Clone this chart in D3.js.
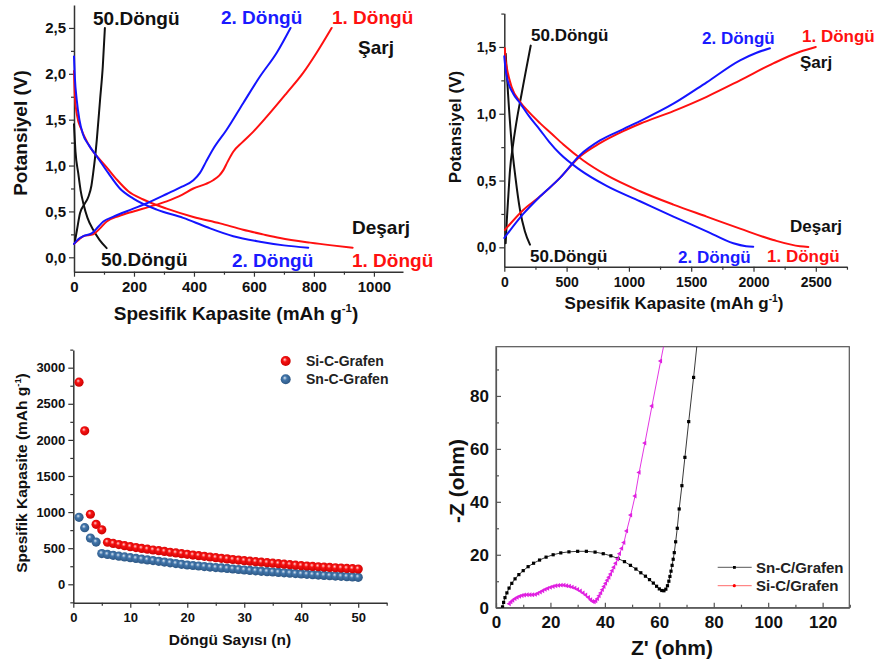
<!DOCTYPE html>
<html><head><meta charset="utf-8">
<script src="https://cdn.jsdelivr.net/npm/d3@7"></script>
<style>
body{margin:0;background:#fff}
svg{display:block}
text{font-family:"Liberation Sans",Arial,sans-serif;font-weight:bold}
</style>
</head><body>
<svg id="c" width="878" height="668"></svg>
<script>
// ---------- DATA ----------
// Panel A (top-left): capacity (mAh/g), potential (V)
const aRedDis = [[0,2.03],[3,1.75],[10,1.55],[25,1.39],[45,1.25],[64,1.15],[85,1.07],[109,0.98],[142,0.85],[181,0.72],[231,0.63],[309,0.53],[398,0.44],[487,0.37],[564,0.30],[630,0.25],[687,0.21],[787,0.16],[860,0.13],[929,0.105]];
const aBlueDis = [[0,2.19],[3,1.95],[9,1.72],[18,1.5],[29,1.35],[50,1.22],[76,1.10],[114,0.92],[153,0.75],[198,0.64],[276,0.52],[364,0.43],[442,0.33],[531,0.23],[620,0.17],[700,0.13],[781,0.105]];
const aRedCh = [[0,0.146],[15,0.19],[31,0.23],[64,0.25],[85,0.31],[109,0.39],[150,0.45],[198,0.50],[250,0.55],[309,0.61],[360,0.68],[398,0.75],[440,0.80],[464,0.84],[484,0.89],[498,0.95],[512,1.04],[531,1.15],[560,1.25],[598,1.37],[642,1.53],[709,1.79],[764,2.01],[809,2.23],[859,2.50]];
const aBlueCh = [[0,0.146],[15,0.20],[31,0.23],[59,0.26],[80,0.33],[98,0.39],[130,0.44],[198,0.53],[250,0.60],[309,0.69],[360,0.77],[398,0.84],[420,0.92],[440,1.04],[464,1.18],[509,1.39],[564,1.68],[620,1.97],[676,2.23],[722,2.50]];
const aBlackCh = [[3,0.17],[10,0.30],[20,0.48],[35,0.58],[48,0.66],[58,0.78],[64,0.92],[70,1.08],[76,1.28],[87,1.72],[96,2.08],[103,2.50]];
const aBlackDis = [[0,1.45],[5,1.15],[14,0.92],[22,0.73],[31,0.59],[45,0.43],[64,0.30],[85,0.19],[109,0.10]];
// Panel B (top-right)
const bRedDis = [[5,1.49],[8,1.42],[19,1.35],[59,1.20],[126,1.09],[200,1.01],[286,0.93],[380,0.85],[474,0.77],[634,0.65],[821,0.54],[1089,0.42],[1357,0.32],[1624,0.23],[1892,0.14],[2159,0.055],[2373,0.008],[2440,0.003]];
const bBlueDis = [[0,1.43],[8,1.35],[19,1.28],[72,1.15],[126,1.08],[200,0.98],[286,0.88],[360,0.79],[447,0.70],[607,0.58],[821,0.46],[1089,0.345],[1357,0.23],[1624,0.12],[1838,0.03],[1940,0.008],[1998,0.004]];
const bRedCh = [[5,0.13],[152,0.28],[286,0.38],[447,0.52],[607,0.68],[768,0.78],[955,0.87],[1089,0.925],[1357,1.02],[1624,1.127],[1892,1.25],[2159,1.377],[2373,1.464],[2500,1.50]];
const bBlueCh = [[0,0.07],[152,0.25],[286,0.38],[447,0.52],[607,0.69],[768,0.80],[955,0.885],[1089,0.945],[1357,1.075],[1624,1.235],[1892,1.40],[2020,1.455],[2132,1.49]];
const bBlackDis = [[11,1.45],[30,1.15],[59,0.78],[90,0.52],[126,0.28],[165,0.12],[206,0.02]];
const bBlackCh = [[11,0.03],[20,0.2],[32,0.38],[46,0.58],[72,0.78],[105,0.98],[139,1.15],[175,1.33],[212,1.51]];
// Panel C (bottom-left): cycle number vs capacity
const cycles = d3.range(1, 51);
const siCapacity = [2800,2125,970,830,755,582,566,550,535,521,509,497,486,475,465,455,444,434,424,415,405,396,387,378,369,360,352,343,335,327,320,313,306,299,292,285,279,272,265,258,253,248,243,238,234,229,225,220,216,212];
const snCapacity = [928,784,640,585,425,413,401,390,379,369,358,348,338,328,318,308,297,287,277,267,260,253,246,239,232,226,220,212,205,198,192,186,180,175,170,164,159,154,148,143,138,133,128,123,118,114,110,106,101,97];
// Panel D (bottom-right): Nyquist Z' vs -Z''
const snNyquist = [[2.4,0.3],[2.8,2.0],[3.3,3.8],[4.0,5.6],[4.8,7.4],[5.8,9.2],[7.0,10.9],[8.4,12.5],[10.0,14.0],[11.8,15.5],[13.8,16.8],[16.0,18.0],[18.4,19.1],[21.0,20.0],[23.8,20.7],[26.8,21.1],[30.0,21.3],[33.2,21.3],[36.4,21.0],[39.4,20.4],[42.2,19.6],[44.8,18.6],[47.2,17.4],[49.4,16.0],[51.4,14.6],[53.2,13.2],[54.9,11.9],[56.4,10.6],[57.8,9.3],[59.0,8.1],[60.0,7.1],[60.9,6.5],[61.7,6.4],[62.4,7.0],[63.0,8.3],[63.5,10.0],[63.9,11.8],[64.3,13.8],[64.7,16.0],[65.1,18.3],[65.5,20.8],[66.0,24.9],[66.6,30.0],[67.3,37.3],[68.3,46.1],[69.4,56.8],[70.8,70.3],[72.6,87.0],[74.0,101]];
const siNyquist = [[4.9,1.5],[5.5,2.2],[6.2,2.8],[7.0,3.4],[7.8,3.9],[8.7,4.3],[9.6,4.6],[10.5,4.8],[11.5,4.9],[12.5,4.9],[13.5,4.9],[14.5,5.0],[15.4,5.4],[16.3,5.9],[17.2,6.4],[18.1,6.9],[19.0,7.3],[20.0,7.7],[21.0,8.0],[22.0,8.3],[23.0,8.4],[24.0,8.5],[25.0,8.5],[26.0,8.3],[27.0,8.1],[28.0,7.8],[29.0,7.4],[30.0,6.9],[31.0,6.3],[32.0,5.6],[33.0,4.8],[34.0,3.9],[34.8,3.0],[35.5,2.4],[36.1,2.2],[36.7,2.6],[37.3,3.4],[37.9,4.5],[38.5,5.6],[39.1,6.8],[39.7,8.0],[40.3,9.2],[40.9,10.4],[41.5,11.5],[42.1,12.7],[42.7,14.0],[43.3,15.3],[44.0,16.8],[44.7,18.4],[45.4,20.4],[46.2,22.4],[47.0,24.6],[48.0,29.0],[49.5,35.0],[51.1,42.2],[52.6,51.1],[54.7,62.2],[57.3,76.2],[60.5,93.2],[62.0,101]];

// tick labels
const aXTicks = [0,200,400,600,800,1000], aYTicks = [0,0.5,1,1.5,2,2.5];
const bXTicks = [0,500,1000,1500,2000,2500], bYTicks = [0,0.5,1,1.5];
const cXTicks = [0,10,20,30,40,50], cYTicks = [0,500,1000,1500,2000,2500,3000];
const dXTicks = [0,20,40,60,80,100,120], dYTicks = [0,20,40,60,80];

// ---------- DRAW ----------
const svg = d3.select("#c");
const defs = svg.append("defs");
const comma = d => d3.format(".1f")(d).replace(".", ",");

function makePanel(o){
  const x = d3.scaleLinear().domain(o.xd).range(o.xr);
  const y = d3.scaleLinear().domain(o.yd).range(o.yr);
  const g = svg.append("g");
  const ac = o.axisColor || "#333";
  const dir = o.box ? -1 : 1;
  const fs = o.tickFont;
  const mx = g.append("g").attr("transform",`translate(0,${o.yr[0]})`)
    .call(d3.axisBottom(x).tickValues(o.xMinor).tickSize(3*dir).tickFormat(""));
  const my = g.append("g").attr("transform",`translate(${o.xr[0]},0)`)
    .call(d3.axisLeft(y).tickValues(o.yMinor).tickSize(3*dir).tickFormat(""));
  [mx,my].forEach(a=>{a.select(".domain").remove(); a.selectAll("line").attr("stroke",ac).attr("stroke-width",1.2);});
  const gx = g.append("g").attr("transform",`translate(0,${o.yr[0]})`)
    .call(d3.axisBottom(x).tickValues(o.xTicks).tickSize(5*dir).tickSizeOuter(0).tickPadding(o.box?8:o.xPad).tickFormat(o.xFmt||d3.format("d")));
  const gy = g.append("g").attr("transform",`translate(${o.xr[0]},0)`)
    .call(d3.axisLeft(y).tickValues(o.yTicks).tickSize(5*dir).tickSizeOuter(0).tickPadding(o.box?7:3).tickFormat(o.yFmt||d3.format("d")));
  [gx,gy].forEach(a=>{
    a.select(".domain").attr("stroke",ac).attr("stroke-width",o.box?1.2:1.5);
    a.selectAll("line").attr("stroke",ac).attr("stroke-width",1.2);
    a.selectAll("text").attr("font-size",fs).attr("font-weight","bold").attr("fill","#111")
      .attr("font-family","Liberation Sans, Arial, sans-serif");
  });
  if(o.box){
    g.append("rect").attr("x",o.xr[0]).attr("y",o.yr[1]).attr("width",o.xr[1]-o.xr[0]).attr("height",o.yr[0]-o.yr[1])
      .attr("fill","none").attr("stroke",ac).attr("stroke-width",1.2);
  }
  return {x,y,g};
}

function title(txt, x, y, size, rot, sup){
  const t = svg.append("text").attr("text-anchor","middle").attr("font-size",size).attr("fill","#111")
    .attr("transform",`translate(${x},${y}) rotate(${rot||0})`).attr("dy","0.35em");
  t.append("tspan").text(txt);
  if(sup){
    t.append("tspan").attr("font-size",size*0.6).attr("dy",-size*0.4).text("-1");
    t.append("tspan").attr("dy",size*0.4).text(")");
  }
}
function label(txt,x,y,size,color){
  svg.append("text").attr("x",x).attr("y",y).attr("dy","0.35em").attr("font-size",size).attr("fill",color).text(txt);
}
function curve(p, data, color, w){
  const line = d3.line().x(d=>p.x(d[0])).y(d=>p.y(d[1])).curve(d3.curveMonotoneX);
  p.g.append("path").datum(data).attr("d",line).attr("fill","none").attr("stroke",color).attr("stroke-width",w||2)
    .attr("stroke-linejoin","round").attr("stroke-linecap","round");
}

// Panel A
const pA = makePanel({xd:[0,1097],xr:[74,403],yd:[-0.157,2.75],yr:[271.7,5],
  xTicks:aXTicks,xMinor:[100,300,500,700,900],yTicks:aYTicks,yMinor:[0.25,0.75,1.25,1.75,2.25],
  yFmt:comma,tickFont:15,xPad:5});
curve(pA,aBlackDis,"#111"); curve(pA,aBlackCh,"#111");
curve(pA,aRedDis,"#ff1010"); curve(pA,aRedCh,"#ff1010");
curve(pA,aBlueDis,"#1414ff"); curve(pA,aBlueCh,"#1414ff");
title("Potansiyel (V)",20,133,19,-90);
title("Spesifik Kapasite (mAh g",236,313,19,0,true);
label("50.Döngü",93,18,19,"#111");
label("2. Döngü",221,17,19,"#1a1aff");
label("1. Döngü",332,17,19,"#ff1010");
label("Şarj",358,47,19,"#111");
label("Deşarj",352,227,19,"#111");
label("50.Döngü",101,259,19,"#111");
label("2. Döngü",232,260,19,"#1a1aff");
label("1. Döngü",352,260,19,"#ff1010");

// Panel B
const pB = makePanel({xd:[0,2748],xr:[504.3,846.7],yd:[-0.145,1.752],yr:[266.7,13.3],
  xTicks:bXTicks,xMinor:[250,750,1250,1750,2250,2750],yTicks:bYTicks,yMinor:[0.25,0.75,1.25,1.75],
  yFmt:comma,tickFont:14,xPad:5});
curve(pB,bBlackDis,"#111"); curve(pB,bBlackCh,"#111");
curve(pB,bRedDis,"#ff1010"); curve(pB,bRedCh,"#ff1010");
curve(pB,bBlueDis,"#1414ff"); curve(pB,bBlueCh,"#1414ff");
title("Potansiyel (V)",455,127,17,-90);
title("Spesifik Kapasite (mAh g",674,303,17,0,true);
label("50.Döngü",531,35,17,"#111");
label("2. Döngü",702,38,17,"#1a1aff");
label("1. Döngü",802,36,17,"#ff1010");
label("Şarj",800,62,17,"#111");
label("Deşarj",790,226,17,"#111");
label("50.Döngü",530,256,17,"#111");
label("2. Döngü",678,257,17,"#1a1aff");
label("1. Döngü",767,256,17,"#ff1010");

// Panel C
const pC = makePanel({xd:[0,55],xr:[73.3,386.7],yd:[-255,3245],yr:[602.7,350],
  xTicks:cXTicks,xMinor:[5,15,25,35,45,55],yTicks:cYTicks,yMinor:[-250,250,750,1250,1750,2250,2750,3250],
  tickFont:13,xPad:5});
function grad(id, hi, mid, dark){
  const rg = defs.append("radialGradient").attr("id",id).attr("cx","45%").attr("cy","45%").attr("r","60%").attr("fx","40%").attr("fy","35%");
  rg.append("stop").attr("offset","0%").attr("stop-color",hi);
  rg.append("stop").attr("offset","35%").attr("stop-color",mid);
  rg.append("stop").attr("offset","100%").attr("stop-color",dark);
}
grad("gRed","#ffd6d6","#f71212","#c80000");
grad("gBlue","#dce7f2","#4276ab","#2a537f");
pC.g.append("g").selectAll("circle").data(cycles).join("circle")
  .attr("cx",d=>pC.x(d)).attr("cy",(d,i)=>pC.y(snCapacity[i])).attr("r",4.6).attr("fill","url(#gBlue)");
pC.g.append("g").selectAll("circle").data(cycles).join("circle")
  .attr("cx",d=>pC.x(d)).attr("cy",(d,i)=>pC.y(siCapacity[i])).attr("r",4.6).attr("fill","url(#gRed)");
svg.append("circle").attr("cx",285.7).attr("cy",361).attr("r",5).attr("fill","url(#gRed)");
svg.append("circle").attr("cx",285.7).attr("cy",379.3).attr("r",5).attr("fill","url(#gBlue)");
label("Si-C-Grafen",306,361,14,"#222");
label("Sn-C-Grafen",306,379.5,14,"#222");
title("Spesifik Kapasite (mAh g",22,473,15.5,-90,true);
title("Döngü Sayısı (n)",230,640,15.5,0);

// Panel D
const pD = makePanel({xd:[0,129.8],xr:[496,849.3],yd:[0,98.6],yr:[607.7,346.7],
  xTicks:dXTicks,xMinor:[10,30,50,70,90,110,130],yTicks:dYTicks,yMinor:[10,30,50,70,90],
  tickFont:17,box:true,axisColor:"#555"});
defs.append("clipPath").attr("id","clipD").append("rect").attr("x",496).attr("y",346.7).attr("width",353.3).attr("height",261);
const gD = pD.g.append("g").attr("clip-path","url(#clipD)");
const lineD = d3.line().x(d=>pD.x(d[0])).y(d=>pD.y(d[1]));
gD.append("path").datum(snNyquist).attr("d",lineD).attr("fill","none").attr("stroke","#222").attr("stroke-width",0.9);
gD.append("path").datum(siNyquist).attr("d",lineD).attr("fill","none").attr("stroke","#e020e0").attr("stroke-width",0.9);
gD.append("g").selectAll("rect").data(snNyquist.slice(0,-1)).join("rect")
  .attr("x",d=>pD.x(d[0])-1.6).attr("y",d=>pD.y(d[1])-1.6).attr("width",3.2).attr("height",3.2).attr("fill","#000");
const tri = d3.symbol().type(d3.symbolTriangle).size(10);
gD.append("g").selectAll("path").data(siNyquist.slice(0,-1)).join("path")
  .attr("d",tri).attr("fill","#e020e0")
  .attr("transform",d=>`translate(${pD.x(d[0])},${pD.y(d[1])}) rotate(-90)`);
svg.append("line").attr("x1",717.7).attr("x2",751.7).attr("y1",567.3).attr("y2",567.3).attr("stroke","#444").attr("stroke-width",0.9);
svg.append("rect").attr("x",733).attr("y",566).attr("width",2.8).attr("height",2.8).attr("fill","#000");
svg.append("line").attr("x1",717.7).attr("x2",751.7).attr("y1",585.7).attr("y2",585.7).attr("stroke","#ff5a5a").attr("stroke-width",0.9);
svg.append("circle").attr("cx",734.3).attr("cy",585.7).attr("r",1.6).attr("fill","#ff0000");
label("Sn-C/Grafen",756,567.5,15,"#222");
label("Si-C/Grafen",756,586,15,"#222");
title("-Z (ohm)",457,481,21,-90);
title("Z' (ohm)",672,648,21,0);
</script>
</body></html>
